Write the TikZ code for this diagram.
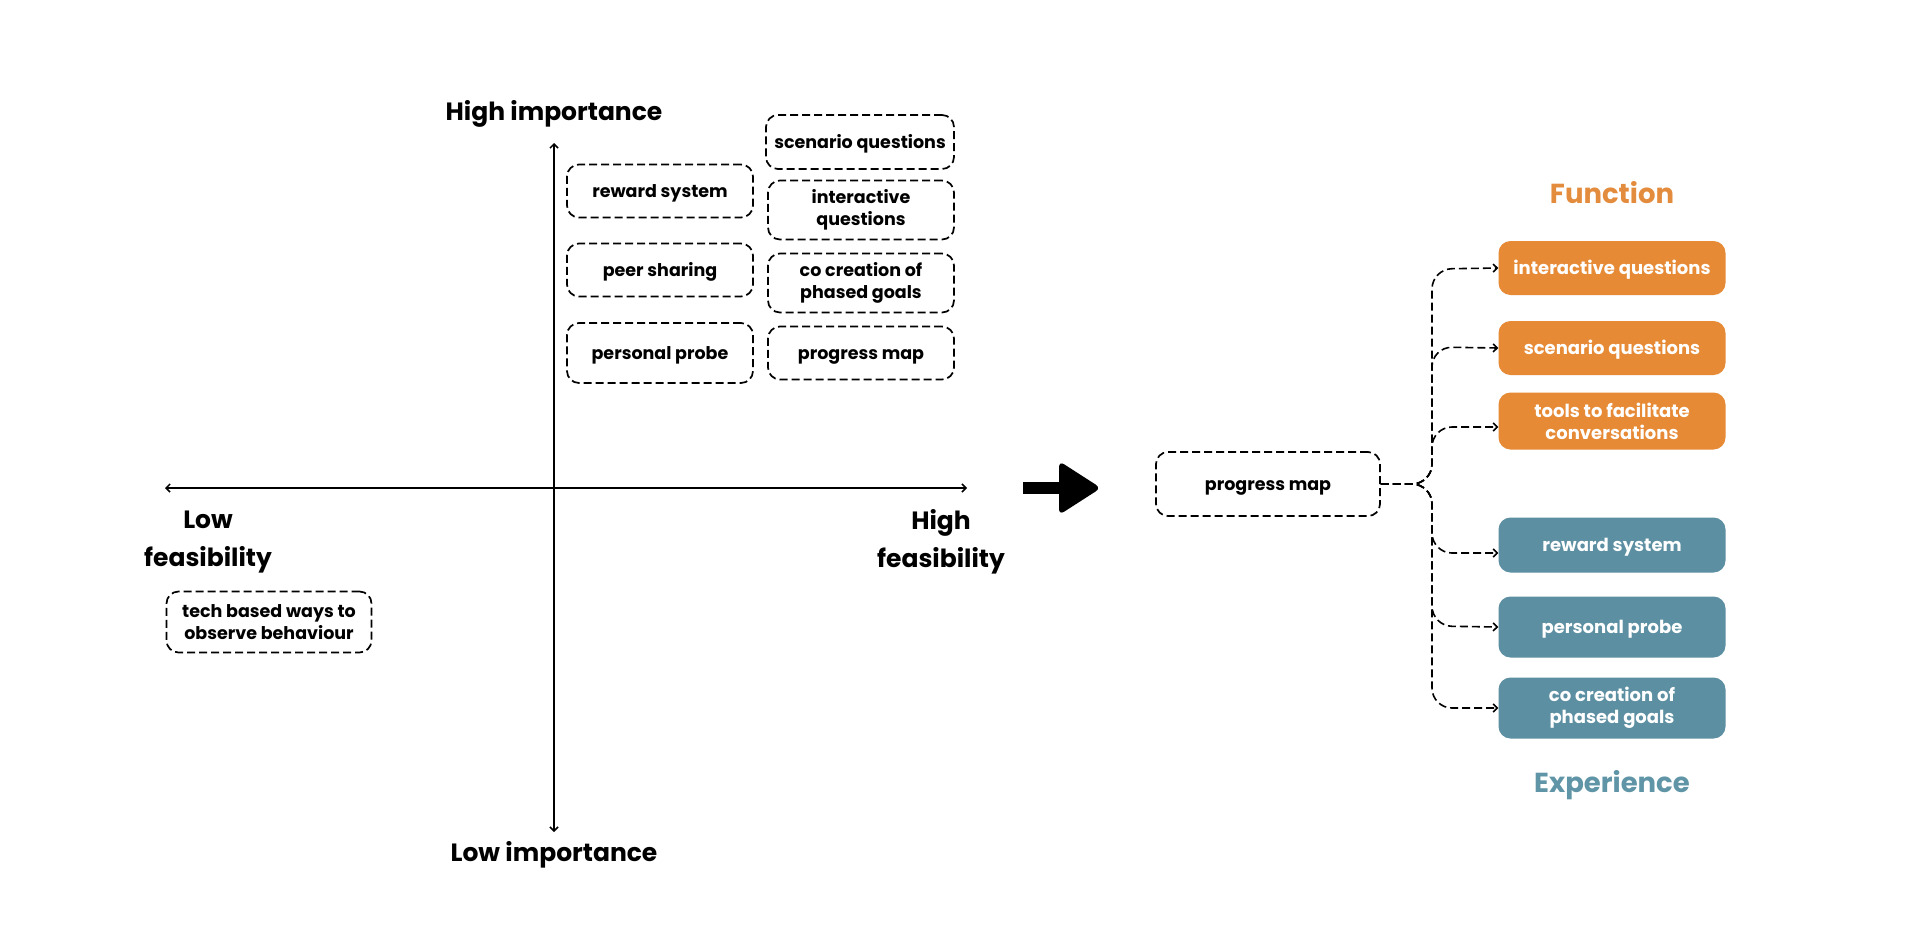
\documentclass[tikz,border=0pt]{standalone}
\usepackage{fontspec}
\setmainfont{Poppins}
\usetikzlibrary{arrows.meta}
\definecolor{forange}{HTML}{E68A35}
\definecolor{eteal}{HTML}{5B8FA1}
\definecolor{lorange}{HTML}{E48C3E}
\definecolor{lteal}{HTML}{5F95A6}
\begin{document}
\begin{tikzpicture}[x=1pt,y=-1pt,
  qbox/.style={draw, dash pattern=on 8pt off 4pt, line width=1.7pt, rounded corners=12pt,
    align=center, inner sep=0pt, font=\fontsize{17.5}{22}\selectfont\bfseries,
    execute at begin node={\rule{0pt}{18.5pt}}},
  fbox/.style={fill=forange, rounded corners=12pt, align=center, inner sep=0pt, text=white,
    minimum width=227pt, font=\fontsize{18}{22}\selectfont\bfseries,
    execute at begin node={\rule{0pt}{18.5pt}}},
  ebox/.style={fbox, fill=eteal},
  axlabel/.style={align=center, inner sep=0pt, font=\fontsize{25}{38}\selectfont\bfseries},
  axis/.style={line width=1.5pt, {Straight Barb[length=4pt,width=8pt]}-{Straight Barb[length=4pt,width=8pt]}},
  conn/.style={line width=1.6pt, dash pattern=on 8pt off 4pt, rounded corners=20pt, -{Straight Barb[length=4pt,width=8pt]}}
]
\useasboundingbox (0,0) rectangle (1920,938);
\fill[white] (0,0) rectangle (1920,938);

% axes
\coordinate (vt) at (554,143);
\coordinate (vb) at (554,832);
\coordinate (hl) at (165,488);
\coordinate (hr) at (967,488);
\draw[axis] (vb) -- (vt);
\draw[axis] (hl) -- (hr);

\node[axlabel] (hi) at (554,114) {High importance};
\node[axlabel] (lo) at (554,855) {Low importance};
\node[axlabel] (lf) at (208,542) {Low\\feasibility};
\node[axlabel] (hf) at (941,542) {High\\feasibility};

% quadrant boxes
\node[qbox, minimum width=186pt, minimum height=53pt] (rs) at (660,191) {reward system};
\node[qbox, minimum width=186pt, minimum height=53pt] (ps) at (660,270) {peer sharing};
\node[qbox, minimum width=186pt, minimum height=60pt] (pp) at (660,353) {personal probe};
\node[qbox, minimum width=188pt, minimum height=54pt] (sq) at (860,142) {scenario questions};
\node[qbox, minimum width=186pt, minimum height=59pt] (iq) at (861,210) {interactive\\questions};
\node[qbox, minimum width=186pt, minimum height=59pt] (cc) at (861,283) {co creation of\\phased goals};
\node[qbox, minimum width=186pt, minimum height=53pt] (pm) at (861,353) {progress map};
\node[qbox, minimum width=205pt, minimum height=61pt] (tb) at (269,622) {tech based ways to\\observe behaviour};

% big arrow
\fill (1023,482) rectangle (1064,494);
\fill[rounded corners=6pt] (1059,461) -- (1101,488) -- (1059,515) -- cycle;

% progress map (right)
\node[qbox, minimum width=224pt, minimum height=64pt] (pm2) at (1268,484) {progress map};

% function / experience labels
\node[font=\fontsize{27.5}{32}\selectfont\bfseries, text=lorange] (fn) at (1612,193) {Function};
\node[font=\fontsize{27.5}{32}\selectfont\bfseries, text=lteal] (ex) at (1612,785) {Experience};

\node[fbox, minimum height=54pt] (f1) at (1612,268) {interactive questions};
\node[fbox, minimum height=54pt] (f2) at (1612,348) {scenario questions};
\node[fbox, minimum height=57pt] (f3) at (1612,421) {tools to facilitate\\conversations};
\node[ebox, minimum height=55pt] (e1) at (1612,545) {reward system};
\node[ebox, minimum height=61pt] (e2) at (1612,627) {personal probe};
\node[ebox, minimum height=61pt] (e3) at (1612,708) {co creation of\\phased goals};

% connectors
\draw[conn] (pm2.east) -- (1432,484) -- (1432,269) -- (f1.west);
\draw[conn] (pm2.east) -- (1432,484) -- (1432,347) -- (f2.west);
\draw[conn] (pm2.east) -- (1432,484) -- (1432,427) -- ([yshift=-6pt]f3.west);
\draw[conn] (pm2.east) -- (1432,484) -- (1432,553) -- ([yshift=-8pt]e1.west);
\draw[conn] (pm2.east) -- (1432,484) -- (1432,626) -- (e2.west);
\draw[conn] (pm2.east) -- (1432,484) -- (1432,708) -- (e3.west);
\end{tikzpicture}
\end{document}
